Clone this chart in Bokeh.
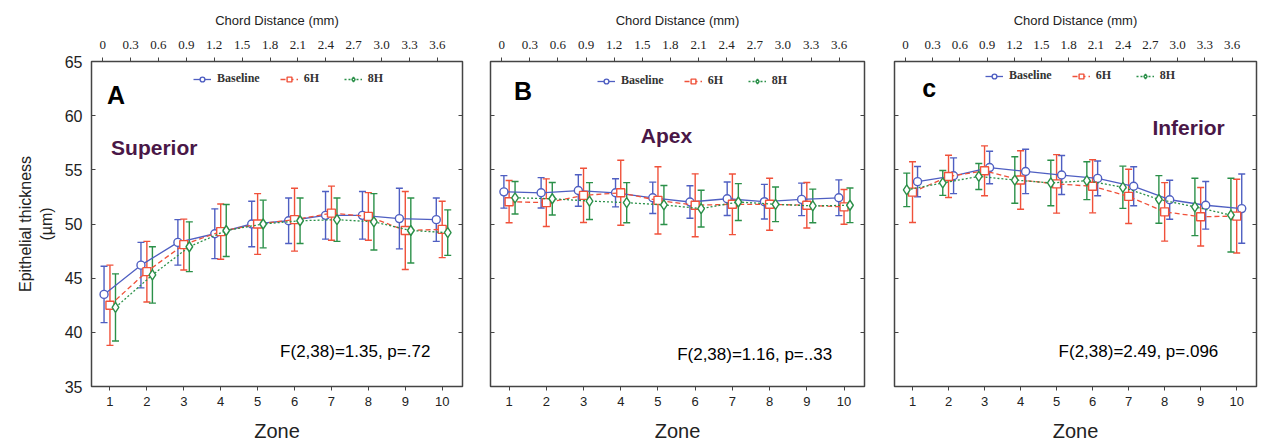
from bokeh.plotting import figure
from bokeh.models import (ColumnDataSource, Whisker, TeeHead, Range1d, LinearAxis,
                          FixedTicker, Label, Legend, LegendItem, CustomLabelingPolicy)
from bokeh.transform import dodge
from bokeh.layouts import row
from bokeh.embed import file_html
from bokeh.resources import INLINE

# ---------------- data ----------------
zones = [1, 2, 3, 4, 5, 6, 7, 8, 9, 10]
series_names = ["Baseline", "6H", "8H"]
chord_ticks = [0, 0.3, 0.6, 0.9, 1.2, 1.5, 1.8, 2.1, 2.4, 2.7, 3.0, 3.3, 3.6]
chord_labels = ["0", "0.3", "0.6", "0.9", "1.2", "1.5", "1.8", "2.1", "2.4", "2.7", "3.0", "3.3", "3.6"]
y_ticks = [35, 40, 45, 50, 55, 60, 65]

# Superior
sup_baseline = [43.5, 46.2, 48.3, 49.1, 50.0, 50.3, 50.8, 50.8, 50.5, 50.4]
sup_baseline_sd = [2.6, 2.1, 2.1, 2.3, 2.1, 2.1, 2.2, 2.2, 2.8, 2.0]
sup_6h = [42.5, 45.6, 48.1, 49.3, 50.0, 50.4, 51.0, 50.7, 49.4, 49.5]
sup_6h_sd = [3.7, 2.8, 2.35, 2.55, 2.8, 2.9, 2.5, 2.2, 3.6, 2.6]
sup_8h = [42.3, 45.3, 47.9, 49.4, 50.0, 50.3, 50.4, 50.2, 49.4, 49.2]
sup_8h_sd = [3.1, 2.6, 2.3, 2.4, 2.2, 2.1, 2.0, 2.6, 3.0, 2.1]

# Apex
apex_baseline = [52.97, 52.88, 53.09, 52.88, 52.42, 52.03, 52.33, 52.06, 52.27, 52.42]
apex_baseline_sd = [1.5, 1.4, 1.45, 1.3, 1.45, 1.5, 1.55, 1.6, 1.5, 1.65]
apex_6h = [52.06, 51.97, 52.64, 52.88, 52.18, 51.73, 51.82, 51.82, 51.73, 51.58]
apex_6h_sd = [1.95, 2.2, 2.5, 3.0, 3.1, 2.9, 2.8, 2.4, 2.1, 1.6]
apex_8h = [52.42, 52.33, 52.12, 51.97, 51.76, 51.42, 52.03, 51.82, 51.67, 51.73]
apex_8h_sd = [1.5, 1.5, 1.7, 1.85, 1.8, 1.7, 1.7, 1.6, 1.55, 1.6]

# Inferior
inf_baseline = [53.91, 54.45, 55.21, 54.85, 54.52, 54.21, 53.48, 52.24, 51.73, 51.42]
inf_baseline_sd = [1.4, 1.65, 1.5, 2.05, 1.8, 1.6, 1.8, 1.8, 2.2, 3.2]
inf_6h = [52.94, 54.39, 54.91, 54.06, 53.7, 53.48, 52.55, 51.12, 50.67, 50.73]
inf_6h_sd = [2.8, 1.95, 2.3, 2.7, 2.7, 2.45, 2.5, 2.7, 2.7, 3.4]
inf_8h = [53.15, 53.79, 54.39, 54.06, 53.79, 54.0, 53.39, 52.27, 51.58, 50.82]
inf_8h_sd = [1.55, 1.15, 1.2, 2.15, 2.1, 1.75, 1.95, 2.2, 2.65, 3.4]

stats_text = ["F(2,38)=1.35, p=.72", "F(2,38)=1.16, p=..33", "F(2,38)=2.49, p=.096"]
region_names = ["Superior", "Apex", "Inferior"]
panel_letters = ["A", "B", "c"]

# ---------------- styles ----------------
COLORS = ["#4f5fc2", "#f0513a", "#2b9049"]
DASHES = ["solid", "5 3", "2 2"]
MARKERS = ["circle", "square", "diamond"]
MSIZES = [8, 8, 10]
PURPLE = "#4a1747"
FRAME = "#444444"
TXT = "#222222"
SANS = "Liberation Sans"
SERIF = "Liberation Serif"

NO_LABELS = "return new indices.constructor(indices.size)"


def tick_only_axis(**kw):
    return LinearAxis(ticker=FixedTicker(ticks=y_ticks), major_tick_in=4, major_tick_out=0,
                      major_label_standoff=0, major_label_text_font_size="8px",
                      major_label_policy=CustomLabelingPolicy(code=NO_LABELS),
                      minor_tick_line_color=None, axis_line_color=FRAME,
                      major_tick_line_color=FRAME, **kw)


def make_panel(means, sds, offsets, letter, letter_pos, region, region_pos, region_align,
               stats, stats_pos, legend_loc, width, bl, br, first):
    p = figure(width=width, height=446, output_backend="svg", toolbar_location=None,
               x_range=Range1d(0.5, 10.55), y_range=Range1d(35, 65),
               min_border_left=bl, min_border_right=br, min_border_top=61, min_border_bottom=60,
               x_axis_location="below", y_axis_location=None)
    p.extra_x_ranges = {"chord": Range1d(-0.12, 3.87)}
    p.xgrid.visible = False
    p.ygrid.visible = False
    p.outline_line_color = FRAME
    p.outline_line_width = 1.5
    p.outline_line_alpha = 1.0
    p.background_fill_color = "white"
    p.border_fill_color = "white"

    # bottom axis
    xa = p.xaxis[0]
    xa.ticker = FixedTicker(ticks=zones)
    xa.axis_label = "Zone"
    xa.axis_label_text_font = SANS
    xa.axis_label_text_font_size = "20px"
    xa.axis_label_text_font_style = "normal"
    xa.axis_label_text_color = TXT
    xa.axis_label_standoff = 11
    xa.major_label_text_font = SANS
    xa.major_label_text_font_size = "13px"
    xa.major_label_text_color = TXT
    xa.major_label_standoff = 6
    xa.major_tick_out = 4
    xa.major_tick_in = 0
    xa.minor_tick_line_color = None
    xa.axis_line_color = FRAME
    xa.major_tick_line_color = FRAME

    # left axis
    if first:
        ya = LinearAxis(ticker=FixedTicker(ticks=y_ticks), major_tick_in=4, major_tick_out=0,
                        minor_tick_line_color=None, axis_line_color=FRAME,
                        major_tick_line_color=FRAME,
                        major_label_text_font=SANS, major_label_text_font_size="16px",
                        major_label_text_color=TXT, major_label_standoff=9,
                        axis_label="Epithelial thickness\n(\u00b5m)", axis_label_text_font=SANS,
                        axis_label_text_font_size="16px", axis_label_text_font_style="normal",
                        axis_label_text_color=TXT, axis_label_standoff=7)
    else:
        ya = tick_only_axis()
    p.add_layout(ya, "left")

    # right axis (inner ticks only)
    p.add_layout(tick_only_axis(), "right")

    # top axis (chord distance)
    ta = LinearAxis(x_range_name="chord", ticker=FixedTicker(ticks=chord_ticks),
                    major_label_overrides={t: l for t, l in zip(chord_ticks, chord_labels)},
                    axis_label="Chord Distance (mm)", axis_label_text_font=SANS,
                    axis_label_text_font_size="13px", axis_label_text_font_style="normal",
                    axis_label_text_color=TXT, axis_label_standoff=10,
                    major_label_text_font=SERIF, major_label_text_font_size="13px",
                    major_label_text_color=TXT,
                    major_label_standoff=9, major_tick_out=4, major_tick_in=0,
                    minor_tick_line_color=None, axis_line_color=FRAME,
                    major_tick_line_color=FRAME)
    p.add_layout(ta, "above")

    items = []
    for i in range(3):
        m = means[i]
        s = sds[i]
        src = ColumnDataSource(dict(
            zone=zones, mean=m,
            upper=[a + b for a, b in zip(m, s)],
            lower=[a - b for a, b in zip(m, s)]))
        xs = dodge("zone", offsets[i], range=p.x_range)
        w = Whisker(source=src, base=xs, upper="upper", lower="lower",
                    line_color=COLORS[i], line_width=1.4,
                    upper_head=TeeHead(size=7, line_color=COLORS[i], line_width=1.4),
                    lower_head=TeeHead(size=7, line_color=COLORS[i], line_width=1.4))
        p.add_layout(w)
        lr = p.line(x=xs, y="mean", source=src, line_color=COLORS[i], line_width=1.3,
                    line_dash=DASHES[i])
        sr = p.scatter(x=xs, y="mean", source=src, marker=MARKERS[i], size=MSIZES[i],
                       fill_color="white", line_color=COLORS[i], line_width=1.4)
        items.append(LegendItem(label=series_names[i], renderers=[lr, sr]))

    leg = Legend(items=items, orientation="horizontal", location=legend_loc,
                 background_fill_alpha=0, border_line_alpha=0,
                 label_text_font=SERIF, label_text_font_size="12px",
                 label_text_font_style="bold", label_text_color="#333333",
                 glyph_width=18, glyph_height=12, label_standoff=6, spacing=20,
                 padding=0, margin=0, label_height=12)
    p.add_layout(leg)

    p.add_layout(Label(x=letter_pos[0], y=letter_pos[1], text=letter, text_font=SANS,
                       text_font_size="25px", text_font_style="bold", text_color="black",
                       text_align="left", text_baseline="middle"))
    p.add_layout(Label(x=region_pos[0], y=region_pos[1], text=region, text_font=SANS,
                       text_font_size="21px", text_font_style="bold", text_color=PURPLE,
                       text_align=region_align, text_baseline="middle"))
    p.add_layout(Label(x=stats_pos[0], y=stats_pos[1], text=stats, text_font=SANS,
                       text_font_size="17px", text_color="black",
                       text_align="right", text_baseline="middle"))
    return p


pa = make_panel([sup_baseline, sup_6h, sup_8h], [sup_baseline_sd, sup_6h_sd, sup_8h_sd],
                [-0.16, 0.0, 0.15], panel_letters[0], (0.92, 61.9), region_names[0], (1.03, 57.1),
                "left", stats_text[0], (9.68, 38.2), (102, 300), 476, 91, 14, True)
pb = make_panel([apex_baseline, apex_6h, apex_8h], [apex_baseline_sd, apex_6h_sd, apex_8h_sd],
                [-0.14, 0.0, 0.16], panel_letters[1], (1.13, 62.3), region_names[1], (5.23, 58.2),
                "center", stats_text[1], (9.68, 38.0), (107, 298), 403, 14, 15, False)
pc = make_panel([inf_baseline, inf_6h, inf_8h], [inf_baseline_sd, inf_6h_sd, inf_8h_sd],
                [0.14, 0.0, -0.16], panel_letters[2], (1.27, 62.6), region_names[2], (7.66, 58.9),
                "left", stats_text[2], (9.49, 38.2), (91, 303), 389, 15, 5, False)

layout = row(pa, pb, pc)
open("out.html", "w").write(file_html(layout, INLINE))
